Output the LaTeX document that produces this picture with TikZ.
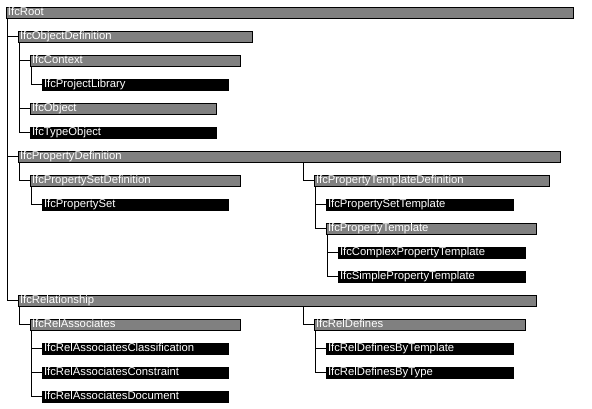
\documentclass[tikz,border=0pt]{standalone}
\usepackage{fontspec}
\setmainfont{Liberation Sans}
\usetikzlibrary{positioning,calc}
\definecolor{abstgray}{HTML}{808080}
\tikzset{cls/.style={draw=black,line width=1pt,anchor=north west,inner xsep=1.5pt,inner ysep=0pt,
           minimum height=11pt,text height=8pt,text depth=2.4pt,align=left,text=white,
           font=\fontsize{11.3}{12}\selectfont},
         abst/.style={cls,fill=abstgray,text width=#1},
         conc/.style={cls,fill=black,text width=#1},
         conn/.style={line width=1pt,black}
}

\begin{document}
\begin{tikzpicture}[x=1pt,y=-1pt]
\useasboundingbox (0,0) rectangle (592,408);

% left column
\node[abst=564] (root) at (6,6.5) {IfcRoot};
\node[abst=231] (objdef) at (18,30.5) {IfcObjectDefinition};
\node[abst=207] (context) at (30,54.5) {IfcContext};
\node[conc=183] (projlib) at (42,78.5) {IfcProjectLibrary};
\node[abst=183] (object) at (30,102.5) {IfcObject};
\node[conc=183] (typeobj) at (30,126.5) {IfcTypeObject};
\node[abst=539] (propdef) at (18,150.5) {IfcPropertyDefinition};
\node[abst=207] (psetdef) at (30,174.5) {IfcPropertySetDefinition};
\node[conc=183] (pset) at (42,198.5) {IfcPropertySet};
\node[abst=515] (rel) at (18,294.5) {IfcRelationship};
\node[abst=207] (relassoc) at (30,318.5) {IfcRelAssociates};
\node[conc=183] (assoccls) at (42,342.5) {IfcRelAssociatesClassification};
\node[conc=183] (assoccon) at (42,366.5) {IfcRelAssociatesConstraint};
\node[conc=183] (assocdoc) at (42,390.5) {IfcRelAssociatesDocument};

% right column
\node[abst=232] (ptdef) at (314,174.5) {IfcPropertyTemplateDefinition};
\node[conc=184] (psettpl) at (326,198.5) {IfcPropertySetTemplate};
\node[abst=207] (ptpl) at (326,222.5) {IfcPropertyTemplate};
\node[conc=184] (cplxtpl) at (338,246.5) {IfcComplexPropertyTemplate};
\node[conc=184] (simpltpl) at (338,270.5) {IfcSimplePropertyTemplate};
\node[abst=208] (reldef) at (314,318.5) {IfcRelDefines};
\node[conc=184] (bytpl) at (326,342.5) {IfcRelDefinesByTemplate};
\node[conc=184] (bytype) at (326,366.5) {IfcRelDefinesByType};

% tree lines
\foreach \up/\kid in {root/objdef,root/propdef,root/rel,objdef/context,context/projlib,
    objdef/object,objdef/typeobj,propdef/psetdef,psetdef/pset,rel/relassoc,
    relassoc/assoccls,relassoc/assoccon,relassoc/assocdoc,ptdef/psettpl,ptdef/ptpl,
    ptpl/cplxtpl,ptpl/simpltpl,reldef/bytpl,reldef/bytype}
  \draw[conn] (\kid.west) -| ($(\up.south west)+(1.5pt,0)$);
\foreach \up/\kid in {propdef/ptdef,rel/reldef}
  \draw[conn] (\kid.west) -| ($(\up.south -| \kid.west)+(-11pt,0)$);

\end{tikzpicture}
\end{document}
